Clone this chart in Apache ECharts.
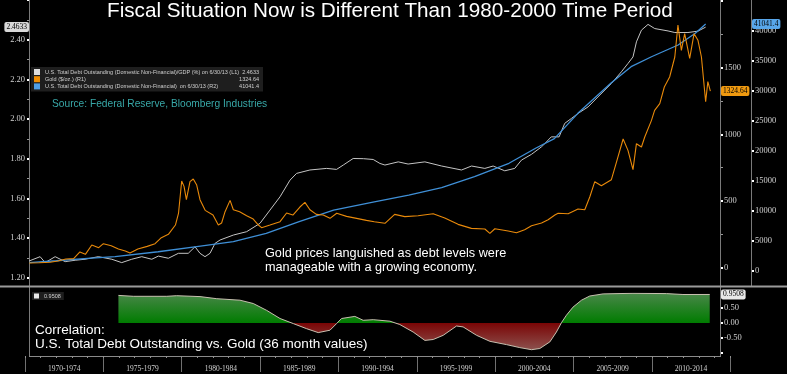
<!DOCTYPE html>
<html><head><meta charset="utf-8">
<script src="https://cdn.jsdelivr.net/npm/echarts@6/dist/echarts.min.js"></script>
<style>html,body{margin:0;padding:0;background:#000;}#c{width:787px;height:374px;}</style>
</head><body><div id="c"></div>
<script>
const debtGdpName = 'U.S. Total Debt Outstanding (Domestic Non-Financial)/GDP (%) on 6/30/13 (L1)';
const goldName = 'Gold ($/oz.) (R1)';
const debtName = 'U.S. Total Debt Outstanding (Domestic Non-Financial)  on 6/30/13 (R2)';
const corrName = 'Correlation';
const lastValues = { debtGdp: '2.4633', gold: '1324.64', debt: '41041.4', corr: '0.9508' };

const debtGdpYears = [1970.25,1970.96,1971.28,1971.92,1972.56,1973.2,1973.83,1974.68,1975.54,1976.17,1976.81,1977.45,1978.09,1978.51,1979.15,1979.79,1980.42,1980.85,1981.17,1981.49,1981.81,1982.13,1982.45,1983.3,1984.15,1985.0,1985.64,1986.28,1986.92,1987.34,1988.19,1989.26,1989.89,1990.32,1990.95,1991.6,1992.23,1992.66,1992.98,1993.83,1994.46,1995.53,1996.6,1997.87,1998.51,1999.36,1999.89,2000.63,2001.27,2001.7,2002.34,2002.98,2003.2,2003.6,2004.1,2004.46,2004.89,2005.31,2005.95,2006.59,2007.44,2008.08,2008.5,2008.82,2009.04,2009.36,2009.78,2010.21,2011.06,2011.49,2012.33,2012.97,2013.46];
const debtGdpValues = [1.284,1.306,1.276,1.306,1.281,1.288,1.293,1.306,1.293,1.276,1.293,1.306,1.293,1.309,1.298,1.323,1.323,1.356,1.323,1.306,1.323,1.373,1.39,1.415,1.432,1.474,1.541,1.608,1.692,1.726,1.743,1.751,1.746,1.768,1.801,1.80,1.796,1.776,1.768,1.784,1.773,1.784,1.763,1.743,1.763,1.751,1.763,1.739,1.751,1.793,1.822,1.86,1.877,1.91,1.91,1.978,2.003,2.028,2.061,2.112,2.179,2.238,2.28,2.313,2.389,2.448,2.477,2.456,2.444,2.436,2.436,2.443,2.4633];

const goldYears = [1970.25,1970.9,1971.6,1972.1,1972.6,1973.1,1973.5,1973.85,1974.26,1974.7,1975.0,1975.5,1975.96,1976.4,1976.7,1977.2,1977.8,1978.3,1978.7,1979.15,1979.6,1979.8,1980.0,1980.15,1980.3,1980.53,1980.74,1980.96,1981.17,1981.5,1982.0,1982.34,1982.55,1982.77,1983.09,1983.3,1983.7,1984.15,1984.57,1984.9,1985.1,1985.64,1986.28,1986.7,1987.1,1987.55,1987.87,1988.19,1988.6,1989.04,1989.47,1989.9,1990.53,1991.17,1991.8,1992.3,1992.98,1993.6,1994.25,1995.1,1996.06,1996.8,1997.65,1998.5,1999.36,1999.68,2000.0,2000.85,2001.38,2001.9,2002.34,2002.98,2003.4,2003.83,2004.04,2004.68,2005.31,2005.74,2006.06,2006.38,2006.8,2007.44,2007.76,2008.19,2008.5,2008.82,2009.04,2009.36,2009.57,2010.0,2010.2,2010.53,2010.82,2011.16,2011.49,2011.69,2011.91,2012.12,2012.44,2012.72,2012.97,2013.19,2013.46,2013.6,2013.76];
const goldValues = [35,37,41,50,65,68,118,100,170,150,180,165,140,125,110,140,160,180,225,250,320,410,650,610,510,645,665,620,510,430,395,320,335,420,505,435,420,390,365,320,300,320,345,410,395,455,490,435,400,395,370,408,385,370,355,345,333,400,383,390,405,372,325,295,290,258,292,275,262,285,315,335,360,395,408,405,440,435,530,645,615,660,790,965,880,735,930,905,980,1105,1180,1230,1355,1430,1580,1820,1630,1755,1570,1755,1705,1580,1245,1395,1324.64];

const debtYears = [1970.25,1972.0,1974.0,1975.75,1978.5,1981.2,1983.3,1985.4,1987.5,1989.7,1992.3,1994.5,1996.6,1998.7,2000.9,2002.6,2003.8,2005.3,2007.4,2008.7,2010.0,2011.7,2012.8,2013.46];
const debtValues = [1400,1700,2100,2380,3200,4150,4870,6270,8200,10100,11500,12600,13850,15700,17900,20400,22000,26200,31200,33950,35600,37560,39500,41041.4];

const corrYears = [1975.96,1976.91,1979.05,1979.68,1981.17,1982.24,1983.72,1984.57,1985.43,1986.28,1987.13,1987.98,1988.72,1989.47,1989.89,1990.21,1991.06,1991.59,1992.23,1993.3,1993.93,1994.78,1995.53,1996.06,1996.7,1997.55,1997.97,1998.83,1999.68,2000.74,2001.59,2002.34,2002.87,2003.51,2003.93,2004.25,2004.57,2004.99,2005.53,2006.06,2006.91,2008.82,2010.95,2012.01,2013.72];
const corrValues = [0.92,0.89,0.89,0.91,0.88,0.81,0.76,0.65,0.42,0.15,-0.02,-0.19,-0.32,-0.24,-0.02,0.15,0.22,0.09,0.11,0.06,-0.05,-0.30,-0.58,-0.55,-0.41,-0.10,-0.13,-0.41,-0.61,-0.72,-0.82,-0.89,-0.85,-0.63,-0.30,0.01,0.26,0.53,0.76,0.90,0.97,0.99,0.98,0.95,0.9508];

const periodLabels = ['1970-1974','1975-1979','1980-1984','1985-1989','1990-1994','1995-1999','2000-2004','2005-2009','2010-2014'];

// ---------- CHART ----------
const pairs = (xs, ys) => xs.map((x, i) => [x, ys[i]]);
const X_MIN = 1970.25, X_MAX = 2014.44;
const lblFont = 'Liberation Serif';
const lblColor = '#d0d0d0';
const CORR_TOP = 293, CORR_H = 60;

function hiddenX(gi) {
  return { type: 'value', gridIndex: gi, min: X_MIN, max: X_MAX, show: false };
}
function ptr(val, bg, fg) {
  return {
    show: true, value: val, status: 'show', type: 'line', triggerTooltip: false,
    lineStyle: { opacity: 0, width: 0 },
    label: { show: true, formatter: () => val, backgroundColor: bg, color: fg,
      fontSize: 7.5, fontFamily: lblFont, padding: [1, 2, 1, 2], borderRadius: 2, margin: 0 }
  };
}
// green above zero, dark red below (zero is the middle of the -1..1 axis)
const corrFill = new echarts.graphic.LinearGradient(0, CORR_TOP, 0, CORR_TOP + CORR_H, [
  { offset: 0, color: '#4a874a' }, { offset: 0.5, color: '#007c00' },
  { offset: 0.5, color: '#7a0505' }, { offset: 1, color: '#8e5a56' }
], true);

const legendRows = {};
legendRows[debtGdpName] = lastValues.debtGdp;
legendRows[goldName] = lastValues.gold;
legendRows[debtName] = lastValues.debt;

const option = {
  backgroundColor: '#000',
  animation: false,
  title: [
    { text: 'Fiscal Situation Now is Different Than 1980-2000 Time Period', left: 107, top: 1, padding: 0,
      textStyle: { color: '#fff', fontSize: 20.7, fontWeight: 'normal', fontFamily: 'Liberation Sans' } },
    { text: 'Source: Federal Reserve, Bloomberg Industries', left: 52, top: 99, padding: 0,
      textStyle: { color: '#38a8a8', fontSize: 10.2, fontWeight: 'normal', fontFamily: 'Liberation Sans' } },
    { text: 'Gold prices languished as debt levels were\nmanageable with a growing economy.', left: 265, top: 246, padding: 0,
      textStyle: { color: '#fff', fontSize: 12.7, lineHeight: 14, fontWeight: 'normal', fontFamily: 'Liberation Sans' } },
    { text: 'Correlation:\nU.S. Total Debt Outstanding vs. Gold (36 month values)', left: 35, top: 324, padding: 0,
      textStyle: { color: '#fff', fontSize: 13.5, lineHeight: 13.3, fontWeight: 'normal', fontFamily: 'Liberation Sans' } }
  ],
  legend: [
    { data: [debtGdpName, goldName, debtName], orient: 'vertical', left: 31, top: 67,
      backgroundColor: '#1e1e1e', padding: [2, 4, 2, 3], itemGap: 1.2, itemWidth: 6, itemHeight: 6, icon: 'rect',
      selectedMode: false,
      formatter: n => '{n|' + n + '}{v|' + legendRows[n] + '}',
      textStyle: { color: '#cfcfcf', fontSize: 5.5, width: 214,
        rich: { n: { fontSize: 5.5, color: '#cfcfcf' }, v: { fontSize: 5.5, color: '#cfcfcf', align: 'right' } } } },
    { data: [{ name: corrName, itemStyle: { color: '#e8e8e8' } }], left: 32, top: 292,
      backgroundColor: '#1e1e1e', padding: [1, 3, 1, 2], itemWidth: 5, itemHeight: 5, icon: 'rect', selectedMode: false,
      formatter: () => lastValues.corr, textStyle: { color: '#cfcfcf', fontSize: 5.5 } }
  ],
  grid: [
    { left: 29, right: 66, top: 0, height: 277.7 },
    { left: 29, right: 66, top: 1, height: 266.7 },
    { left: 29, right: 66, top: 0.2, height: 270.8 },
    { left: 29, right: 66, top: CORR_TOP, height: CORR_H },
    { left: 25, width: 705.15, top: 346, height: 10 },
    { left: 25, width: 705.15, top: 346, height: 10 }
  ],
  xAxis: [
    hiddenX(0), hiddenX(1), hiddenX(2), hiddenX(3),
    { type: 'category', gridIndex: 4, data: periodLabels, boundaryGap: true, position: 'bottom',
      axisLine: { show: false }, axisTick: { show: true, length: 16, lineStyle: { color: '#707070', width: 1 } },
      axisLabel: { color: lblColor, fontSize: 7.5, fontFamily: lblFont, margin: 9 }, splitLine: { show: false } },
    { type: 'value', gridIndex: 5, min: 1970, max: 2015, interval: 1, position: 'bottom',
      axisLine: { show: false }, axisTick: { show: true, length: 2, lineStyle: { color: '#909090' } },
      axisLabel: { show: false }, splitLine: { show: false } }
  ],
  yAxis: [
    { type: 'value', gridIndex: 0, position: 'left', min: 1.2, max: 2.6, interval: 0.2,
      axisLine: { show: false }, splitLine: { show: false },
      axisTick: { show: true, length: 2, lineStyle: { color: '#fff', width: 2 } },
      minorTick: { show: true, splitNumber: 2, length: 2, lineStyle: { color: '#999', width: 1 } },
      axisLabel: { color: lblColor, fontSize: 8.5, fontFamily: lblFont, margin: 4, showMaxLabel: false,
        formatter: v => v.toFixed(2) },
      axisPointer: ptr(lastValues.debtGdp, '#d8d8d8', '#000') },
    { type: 'value', gridIndex: 1, position: 'right', min: 0, max: 2000, interval: 500,
      axisLine: { show: false }, splitLine: { show: false },
      axisTick: { show: true, length: 2, lineStyle: { color: '#fff', width: 2 } },
      minorTick: { show: true, splitNumber: 2, length: 2, lineStyle: { color: '#999', width: 1 } },
      axisLabel: { color: lblColor, fontSize: 8.5, fontFamily: lblFont, margin: 3, showMaxLabel: false, formatter: v => String(v) },
      axisPointer: ptr(lastValues.gold, '#f09a10', '#000') },
    { type: 'value', gridIndex: 2, position: 'right', offset: 31, min: 0, max: 45000, interval: 5000,
      axisLine: { show: false }, splitLine: { show: false },
      axisTick: { show: true, length: 2, lineStyle: { color: '#fff', width: 2 } },
      axisLabel: { color: lblColor, fontSize: 8.5, fontFamily: lblFont, margin: 3, showMaxLabel: false, formatter: v => String(v) },
      axisPointer: ptr(lastValues.debt, '#58a6ea', '#000') },
    { type: 'value', gridIndex: 3, position: 'right', min: -1, max: 1, interval: 0.5,
      axisLine: { show: false }, splitLine: { show: false },
      axisTick: { show: true, length: 2, lineStyle: { color: '#fff', width: 2 } },
      axisLabel: { color: lblColor, fontSize: 8.5, fontFamily: lblFont, margin: 3,
        formatter: v => (Math.abs(v) >= 0.99 ? '' : v.toFixed(2)) },
      axisPointer: ptr(lastValues.corr, '#e8e8e8', '#000') },
    { type: 'value', gridIndex: 4, show: false, min: 0, max: 1 },
    { type: 'value', gridIndex: 5, show: false, min: 0, max: 1 }
  ],
  series: [
    { name: debtGdpName, type: 'line', xAxisIndex: 0, yAxisIndex: 0, data: pairs(debtGdpYears, debtGdpValues),
      showSymbol: false, z: 2, color: '#dcdcdc', lineStyle: { color: '#c4c4c4', width: 1 } },
    { name: debtName, type: 'line', xAxisIndex: 2, yAxisIndex: 2, data: pairs(debtYears, debtValues),
      showSymbol: false, z: 3, color: '#4f9ee6', lineStyle: { color: '#3f8fd6', width: 1.3 } },
    { name: goldName, type: 'line', xAxisIndex: 1, yAxisIndex: 1, data: pairs(goldYears, goldValues),
      showSymbol: false, z: 4, color: '#f08c00', lineStyle: { color: '#e8890a', width: 1.1 } },
    { name: corrName, type: 'line', xAxisIndex: 3, yAxisIndex: 3, data: pairs(corrYears, corrValues),
      showSymbol: false, z: 2, color: '#e8e8e8', lineStyle: { color: '#c8c0b0', width: 1 },
      areaStyle: { opacity: 1, color: corrFill } }
  ],
  graphic: [
    { type: 'line', shape: { x1: 29.5, y1: 0, x2: 29.5, y2: 356 }, style: { stroke: '#7a7a7a', lineWidth: 1 }, silent: true },
    { type: 'line', shape: { x1: 720.5, y1: 0, x2: 720.5, y2: 356 }, style: { stroke: '#7a7a7a', lineWidth: 1 }, silent: true },
    { type: 'line', shape: { x1: 751.5, y1: 0, x2: 751.5, y2: 287 }, style: { stroke: '#7a7a7a', lineWidth: 1 }, silent: true },
    { type: 'line', shape: { x1: 0, y1: 286.5, x2: 787, y2: 286.5 }, style: { stroke: '#9a9a9a', lineWidth: 2 }, silent: true },
    { type: 'line', shape: { x1: 29, y1: 356.5, x2: 721, y2: 356.5 }, style: { stroke: '#8a8a8a', lineWidth: 1 }, silent: true }
  ]
};
const chart = echarts.init(document.getElementById('c'), null, { renderer: 'canvas' });
chart.setOption(option);
</script></body></html>
